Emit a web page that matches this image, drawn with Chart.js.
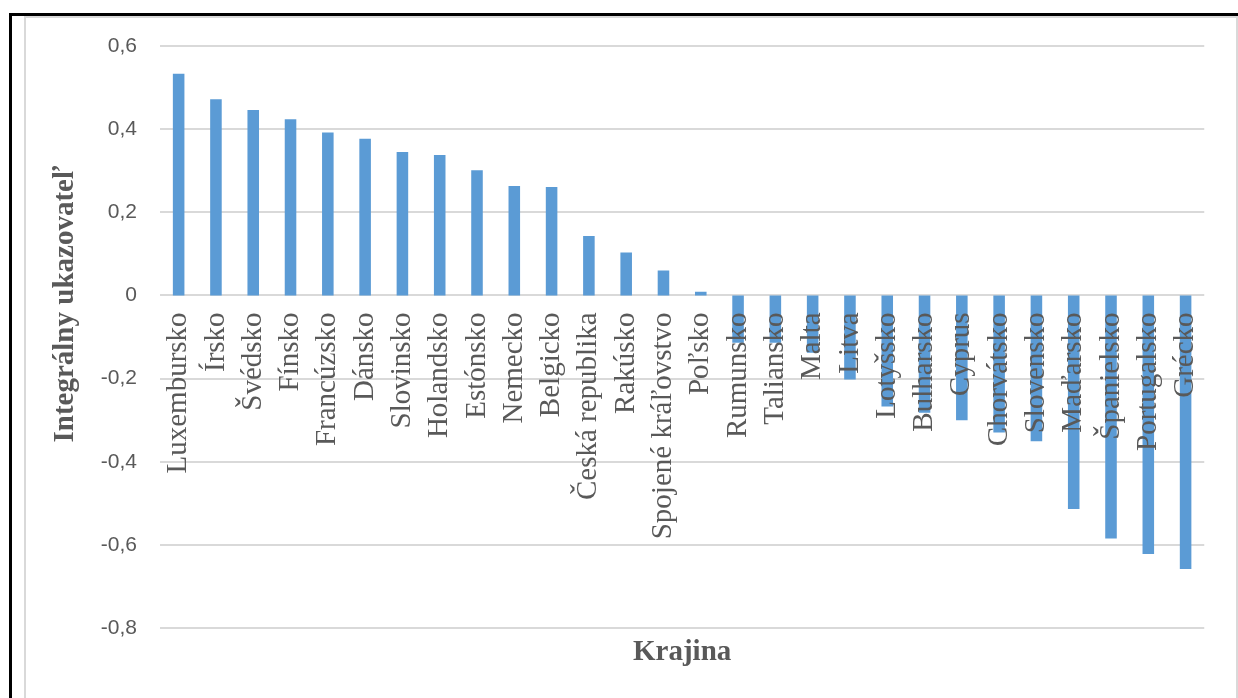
<!DOCTYPE html>
<html>
<head>
<meta charset="utf-8">
<script src="https://cdn.jsdelivr.net/npm/chart.js@4.4.1/dist/chart.umd.min.js"></script>
<style>
  html, body { margin: 0; padding: 0; background: #ffffff; width: 1238px; height: 698px; overflow: hidden; }
  #wrap { position: relative; width: 1238px; height: 698px; }
  .frame-black { position: absolute; left: 9px; top: 13px; width: 1240px; height: 700px; border-left: 3px solid #000; border-top: 3px solid #000; }
  .frame-grey { position: absolute; left: 24px; top: 16px; width: 1210px; height: 700px; border-left: 2px solid #d9d9d9; border-top: 2px solid #d9d9d9; border-right: 2px solid #d9d9d9; }
  canvas { position: absolute; left: 0; top: 0; }
</style>
</head>
<body>
<div id="wrap">
  <div class="frame-black"></div>
  <div class="frame-grey"></div>
  <canvas id="c" width="1238" height="698"></canvas>
</div>
<script>
const categories = ['Luxembursko','Írsko','Švédsko','Fínsko','Francúzsko','Dánsko','Slovinsko','Holandsko','Estónsko','Nemecko','Belgicko','Česká republika','Rakúsko','Spojené kráľovstvo','Poľsko','Rumunsko','Taliansko','Malta','Litva','Lotyšsko','Bulharsko','Cyprus','Chorvátsko','Slovensko','Maďarsko','Španielsko','Portugalsko','Grécko'];
const values = [0.533, 0.472, 0.446, 0.424, 0.392, 0.377, 0.345, 0.338, 0.301, 0.263, 0.261, 0.143, 0.103, 0.060, 0.009, -0.114, -0.114, -0.138, -0.202, -0.267, -0.282, -0.300, -0.330, -0.351, -0.514, -0.585, -0.622, -0.658];
const yAxisTitle = 'Integrálny ukazovateľ';
const xAxisTitle = 'Krajina';
const yMin = -0.8, yMax = 0.6, yStep = 0.2;

const textGrey = '#595959';

const yTitlePlugin = {
  id: 'yTitle',
  afterDraw(chart) {
    const ctx = chart.ctx;
    ctx.save();
    ctx.translate(66, 304);
    ctx.rotate(-Math.PI / 2);
    ctx.font = 'bold 29px "Liberation Serif"';
    ctx.fillStyle = textGrey;
    ctx.textAlign = 'center';
    ctx.textBaseline = 'middle';
    ctx.fillText(yAxisTitle, 0, 0);
    ctx.restore();
  }
};

new Chart(document.getElementById('c'), {
  type: 'bar',
  data: {
    labels: categories,
    datasets: [{
      data: values,
      backgroundColor: '#5b9bd5',
      borderWidth: 0,
      categoryPercentage: 1.0,
      barPercentage: 0.31
    }]
  },
  options: {
    responsive: false,
    devicePixelRatio: 1,
    animation: false,
    layout: { padding: { left: 0, right: 30, top: 46, bottom: 0 } },
    plugins: {
      legend: { display: false },
      tooltip: { enabled: false },
      title: {
        display: true,
        text: xAxisTitle,
        position: 'bottom',
        fullSize: false,
        color: textGrey,
        font: { family: 'Liberation Serif', size: 29, weight: 'bold' },
        padding: { top: 7, bottom: 28.2 }
      }
    },
    scales: {
      x: {
        type: 'category',
        position: { y: 0 },
        grid: { display: false, drawTicks: false },
        border: { display: false },
        ticks: {
          z: 1,
          autoSkip: false,
          minRotation: 90,
          maxRotation: 90,
          padding: 17,
          color: textGrey,
          font: { family: 'Liberation Serif', size: 29 }
        }
      },
      y: {
        min: yMin,
        max: yMax,
        afterFit(scale) { scale.width = 160; },
        grid: { color: '#d9d9d9', lineWidth: 2, drawTicks: false },
        border: { display: false },
        ticks: {
          stepSize: yStep,
          padding: 23,
          color: textGrey,
          font: { family: 'Liberation Sans', size: 21 },
          callback: v => { const r = Math.round(v * 10) / 10; return r === 0 ? '0' : r.toFixed(1).replace('.', ','); }
        }
      }
    }
  },
  plugins: [yTitlePlugin]
});
</script>
</body>
</html>
